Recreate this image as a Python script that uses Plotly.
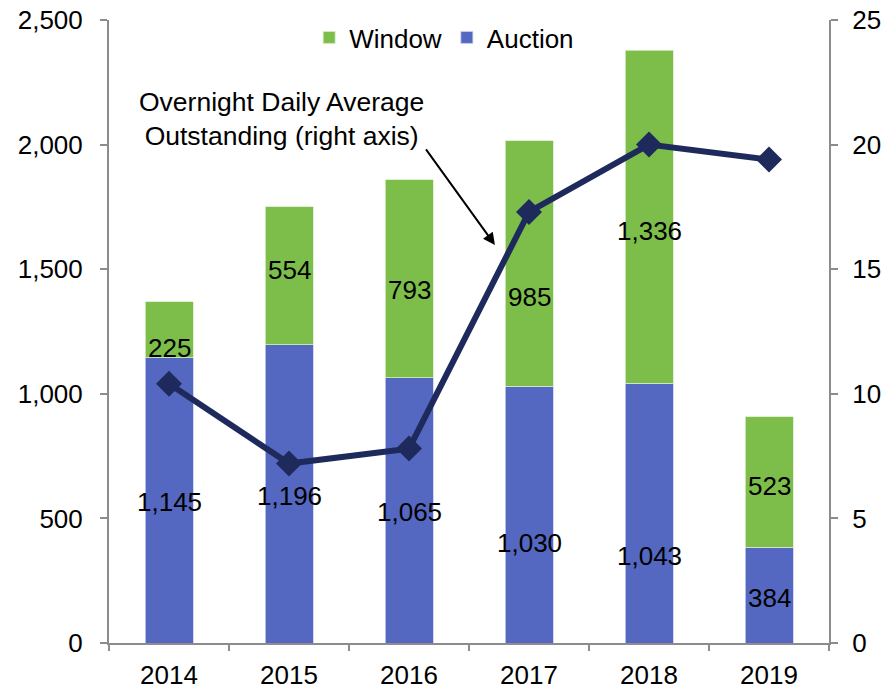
import plotly.graph_objects as go

years = ["2014", "2015", "2016", "2017", "2018", "2019"]
auction = [1145, 1196, 1065, 1030, 1043, 384]
window = [225, 554, 793, 985, 1336, 523]
overnight_avg = [10.4, 7.2, 7.8, 17.3, 20.0, 19.4]

left_ticks = [0, 500, 1000, 1500, 2000, 2500]
right_ticks = [0, 5, 10, 15, 20, 25]

# pixel nudges for the data labels (layout only)
auction_label_shift = [-2, -2, -2, -28, -43, -3]
window_label_shift = [-18, 6, -11, -33, -14, -4]

GREEN = "#7DBE4B"
BLUE = "#5468C2"
NAVY = "#1F2A5C"
AXIS = "#8C8C8C"
FONT = "Liberation Sans, Arial, sans-serif"
FS = 26

fig = go.Figure()
fig.add_trace(go.Bar(x=years, y=auction, name="Auction", marker=dict(color=BLUE, line=dict(color="#C9D0EE", width=0.8)),
                     width=0.4, legendrank=2))
fig.add_trace(go.Bar(x=years, y=window, name="Window", marker=dict(color=GREEN, line=dict(color="#D9ECC9", width=0.8)),
                     width=0.4, legendrank=1))
fig.add_trace(go.Scatter(x=years, y=overnight_avg, yaxis="y2", mode="lines+markers", showlegend=False,
                         line=dict(color=NAVY, width=6),
                         marker=dict(symbol="diamond", size=20, color=NAVY)))

annotations = []
for i, yr in enumerate(years):
    annotations.append(dict(x=i, y=auction[i] / 2, xref="x", yref="y", text=f"{auction[i]:,}",
                            showarrow=False, yshift=auction_label_shift[i],
                            font=dict(family=FONT, size=FS, color="black")))
    annotations.append(dict(x=i, y=auction[i] + window[i] / 2, xref="x", yref="y", text=f"{window[i]:,}",
                            showarrow=False, yshift=window_label_shift[i],
                            font=dict(family=FONT, size=FS, color="black")))

annotations.append(dict(x=0.24, y=0.841, xref="paper", yref="paper",
                        text="Overnight Daily Average<br>Outstanding (right axis)",
                        showarrow=False, align="center", xanchor="center", yanchor="middle",
                        font=dict(family=FONT, size=26.5, color="black")))
annotations.append(dict(x=0.536, y=0.639, xref="paper", yref="paper", text="",
                        showarrow=True, ax=-70, ay=-97, arrowhead=2, arrowsize=1.2,
                        arrowwidth=2, arrowcolor="black"))

fig.update_layout(
    width=896, height=690,
    margin=dict(l=109, r=67, t=20, b=47, autoexpand=False),
    paper_bgcolor="white", plot_bgcolor="white",
    barmode="stack", bargap=0.6,
    font=dict(family=FONT, size=FS, color="black"),
    legend=dict(orientation="h", x=0.278, y=1.0096, xanchor="left", yanchor="top",
                font=dict(family=FONT, size=FS), bgcolor="rgba(0,0,0,0)",
                traceorder="normal", itemwidth=30, tracegroupgap=0),
    xaxis=dict(type="category", range=[-0.5, 5.5], showline=True, linecolor=AXIS, linewidth=2,
               ticks="outside", tickson="boundaries", ticklabelstandoff=8,
               ticklen=6, tickcolor=AXIS, tickwidth=2, showgrid=False, automargin=False, tickangle=0,
               tickfont=dict(family=FONT, size=FS, color="black")),
    yaxis=dict(range=[0, 2500], tickvals=left_ticks, ticktext=[f"{v:,}" for v in left_ticks],
               showline=True, linecolor=AXIS, linewidth=2, ticks="outside", ticklen=7, automargin=False,
               ticklabelstandoff=12, ticklabeloverflow="allow",
               tickcolor=AXIS, tickwidth=2, showgrid=False, zeroline=False,
               tickfont=dict(family=FONT, size=FS, color="black")),
    yaxis2=dict(range=[0, 25], tickvals=right_ticks, overlaying="y", side="right",
                showline=True, linecolor=AXIS, linewidth=2, ticks="outside", ticklen=7, automargin=False,
                ticklabelstandoff=9, ticklabeloverflow="allow",
                tickcolor=AXIS, tickwidth=2, showgrid=False, zeroline=False,
                tickfont=dict(family=FONT, size=FS, color="black")),
    annotations=annotations,
)

fig.write_html("out.html", config={"displayModeBar": False},
               post_script="document.body.style.margin='0';")
